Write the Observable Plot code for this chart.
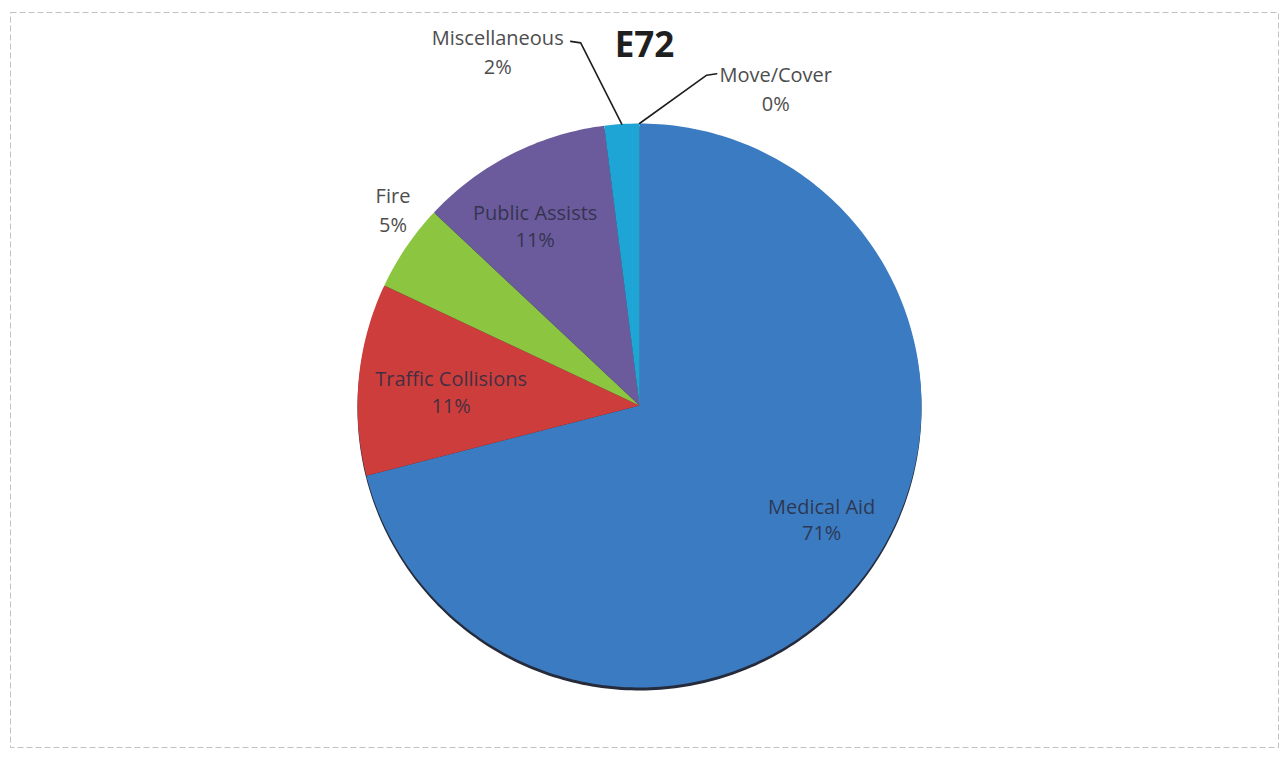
<!DOCTYPE html>
<html><head><meta charset="utf-8">
<script src="https://cdn.jsdelivr.net/npm/d3@7"></script>
<script src="https://cdn.jsdelivr.net/npm/@observablehq/plot@0.6"></script>
<style>body{margin:0;background:#fff}</style>
</head><body><div id="chart"></div>
<script>
// ---- data ----
const chartTitle = "E72";
const categories = ["Medical Aid", "Traffic Collisions", "Fire", "Public Assists", "Miscellaneous", "Move/Cover"];
const percents = [71, 11, 5, 11, 2, 0];

// ---- styles / layout ----
const palette = ["#3b7bc1", "#cc3d3b", "#8cc540", "#6b5b9c", "#1ea5d6", "#f79646"];
const W = 1286, H = 759, CX = 639, CY = 405, R = 282;
// label placement: angle nudge (deg) from slice mid-angle, radius (in pie radii);
// for leader labels the point is the leader's end, text offset by (dx, dy) pixels
const labelLayout = {
  "Medical Aid":        {inside: true,  nudge: -6,  r: 0.76},
  "Traffic Collisions": {inside: true,  nudge: -1,  r: 0.67},
  "Fire":               {inside: false, nudge: 4.5, r: 1.12},
  "Public Assists":     {inside: true,  nudge: -3,  r: 0.74},
  "Miscellaneous":      {inside: false, nudge: -7.1, r: 1.314, leader: true, side: -1, dx: -73, dy: 9},
  "Move/Cover":         {inside: false, nudge: 13.1, r: 1.208, leader: true, side: 1, dx: 59, dy: 14}
};

const deg = Math.PI / 180;
const px = 1 / R; // one pixel in pie units
const polar = (a, r) => [r * Math.sin(a), r * Math.cos(a)];
const arcs = d3.pie().sort(null).value(d => d.pct)(categories.map((cat, i) => ({cat, pct: percents[i]})));

const slicePoints = [];
for (const s of arcs) {
  const span = s.endAngle - s.startAngle;
  if (span <= 0) continue;
  slicePoints.push({cat: s.data.cat, x: 0, y: 0});
  const n = Math.max(2, Math.ceil(span / deg));
  for (let k = 0; k <= n; k++) {
    const [x, y] = polar(s.startAngle + span * k / n, 1);
    slicePoints.push({cat: s.data.cat, x, y});
  }
}

const labels = [];
const leaders = [];
for (const s of arcs) {
  const L = labelLayout[s.data.cat];
  const mid = (s.startAngle + s.endAngle) / 2;
  const [lx, ly] = polar(mid + L.nudge * deg, L.r);
  labels.push({cat: s.data.cat, text: `${s.data.cat}\n${s.data.pct}%`,
               x: lx + (L.dx || 0) * px, y: ly - (L.dy || 0) * px, inside: L.inside});
  if (L.leader) {
    const [ax, ay] = polar(mid, 1);
    leaders.push({cat: s.data.cat, x: ax, y: ay});
    leaders.push({cat: s.data.cat, x: lx - L.side * 10 * px, y: ly - 1.5 * px});
    leaders.push({cat: s.data.cat, x: lx, y: ly});
  }
}

const font = "'Open Sans', Lato, sans-serif";
const chart = Plot.plot({
  width: W, height: H,
  marginTop: 12, marginLeft: 10, marginRight: 8, marginBottom: 12,
  x: {domain: [-1, 1], range: [CX - R, CX + R], axis: null},
  y: {domain: [-1, 1], range: [CY + R, CY - R], axis: null},
  color: {domain: categories, range: palette},
  style: {background: "#fff", fontFamily: font},
  marks: [
    Plot.frame({stroke: "#9a9a9a", strokeDasharray: "6,3", strokeOpacity: 0.6}),
    // bottom rim shadow
    Plot.line(slicePoints, {x: "x", y: "y", z: "cat", fill: "#262b3b", stroke: "none", curve: "linear-closed", dy: 3}),
    Plot.line(slicePoints, {x: "x", y: "y", z: "cat", fill: "cat", stroke: "none", curve: "linear-closed"}),
    Plot.line(leaders, {x: "x", y: "y", z: "cat", stroke: "#1e1e1e", strokeWidth: 1.6}),
    Plot.text(labels.filter(d => d.inside), {x: "x", y: "y", text: "text", fill: "#2c2e44", fillOpacity: 0.88,
      fontFamily: font, fontSize: 20, lineHeight: 1.33, lineAnchor: "middle", textAnchor: "middle"}),
    Plot.text(labels.filter(d => !d.inside), {x: "x", y: "y", text: "text",
      fill: "#4d4d4d", fontFamily: font, fontSize: 20, lineHeight: 1.45, lineAnchor: "middle", textAnchor: "middle"}),
    Plot.text([chartTitle], {frameAnchor: "top", text: d => d, dy: 33, lineAnchor: "middle",
      fontFamily: font, fontSize: 35, fontWeight: "bold", fill: "#1f1f1f"})
  ]
});
document.getElementById("chart").append(chart);
</script>
</body></html>
